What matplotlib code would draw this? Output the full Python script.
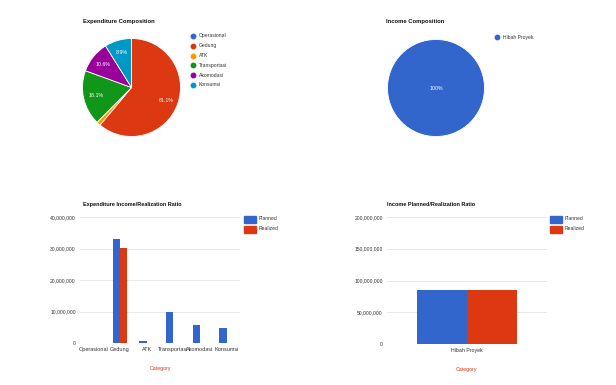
import matplotlib
matplotlib.use("Agg")
import matplotlib.pyplot as plt
from matplotlib.ticker import FuncFormatter, MultipleLocator
import numpy as np

plt.rcParams["font.family"] = ["Liberation Sans", "DejaVu Sans"]

# expenditure categories and planned / realized amounts
exp_cats = ["Operasional", "Gedung", "ATK", "Transportasi", "Akomodasi", "Konsumsi"]
exp_planned = [0, 33000000, 700000, 9800000, 5700000, 4800000]
exp_realized = [0, 30200000, 0, 0, 0, 0]

inc_cats = ["Hibah Proyek"]
inc_planned = [85000000]
inc_realized = [85000000]

GC = ["#3366cc", "#dc3912", "#ff9900", "#109618", "#990099", "#0099c6"]
W, H = 616, 385


def box(x0, y0, x1, y1):
    # pixel box (top-left origin) -> figure fraction rect
    return [x0 / W, 1 - y1 / H, (x1 - x0) / W, (y1 - y0) / H]


fig = plt.figure(figsize=(W / 100, H / 100), dpi=100)
fig.patch.set_facecolor("white")


def legend_rows(x, y, labels, colors, step=9.8, marker="o"):
    for i, (lab, c) in enumerate(zip(labels, colors)):
        yy = 1 - (y + i * step) / H
        if marker == "o":
            fig.add_artist(plt.Line2D([x / W], [yy], marker="o", markersize=3.2,
                                      color=c, transform=fig.transFigure))
        else:
            fig.patches.append(plt.Rectangle((x / W - 6 / W, yy - 3.5 / H), 12 / W, 7 / H,
                                             color=c, transform=fig.transFigure, figure=fig))
        fig.text((x + 6 if marker == "o" else x + 9) / W, yy, lab, fontsize=3.6,
                 color="#333333", va="center")


def pie(rect, values, colors, title, title_xy, pctdist=0.75):
    ax = fig.add_axes(rect)

    def fmt(p):
        return f"{p:.1f}%" if p >= 5 else ""
    ax.pie(values, colors=colors, startangle=90, counterclock=False,
           autopct=fmt, pctdistance=pctdist,
           wedgeprops=dict(edgecolor="white", linewidth=0.6),
           textprops=dict(color="white", fontsize=3.8))
    ax.set_xlim(-1.01, 1.01)
    ax.set_ylim(-1.01, 1.01)
    ax.set_aspect("equal")
    fig.text(title_xy[0] / W, 1 - title_xy[1] / H, title, fontsize=4.2,
             fontweight="bold", color="#111111", va="center")
    return ax


# pie charts
pie(box(82, 38, 181, 137), exp_planned, GC, "Expenditure Composition", (83, 21))
legend_rows(193, 36, exp_cats, GC)
ax = pie(box(387, 39, 485, 137), inc_planned, GC[:1], "Income Composition", (386, 21),
         pctdist=0)
ax.texts[-1].set_text("100%")
legend_rows(497, 37, inc_cats, GC[:1])

num = FuncFormatter(lambda v, _: f"{v:,.0f}")


def bars(rect, cats, planned, realized, ymax, step, width, title, title_xy, leg_xy,
         tick_fs):
    ax = fig.add_axes(rect)
    x = np.arange(len(cats))
    ax.bar(x - width / 2, planned, width, color=GC[0], label="Planned")
    ax.bar(x + width / 2, realized, width, color=GC[1], label="Realized")
    ax.set_xlim(-0.5, len(cats) - 0.5)
    ax.set_ylim(0, ymax)
    ax.yaxis.set_major_locator(MultipleLocator(step))
    ax.yaxis.set_major_formatter(num)
    ax.grid(axis="y", color="#e4e4e4", linewidth=0.6)
    ax.set_axisbelow(True)
    for s in ax.spines.values():
        s.set_visible(False)
    ax.axhline(0, color="#555555", linewidth=0.7)
    ax.tick_params(length=0, labelsize=3.6, colors="#333333", pad=3)
    ax.set_xticks(x)
    ax.set_xticklabels(cats, fontsize=tick_fs)
    ax.set_xlabel("Category", color="#dc3912", fontsize=3.8, labelpad=10)
    fig.text(title_xy[0] / W, 1 - title_xy[1] / H, title, fontsize=4.0,
             fontweight="bold", color="#111111", va="center")
    legend_rows(leg_xy[0], leg_xy[1], ["Planned", "Realized"], GC[:2], step=10, marker="s")
    return ax


bars(box(80, 217, 240, 343), exp_cats, exp_planned, exp_realized, 40000000, 10000000, 0.27,
     "Expenditure Income/Realization Ratio", (83, 205), (250, 219), 4.0)
bars(box(387, 217, 547, 344), inc_cats, inc_planned, inc_realized, 200000000, 50000000, 0.31,
     "Income Planned/Realization Ratio", (387, 205), (556, 219), 3.8)

fig.savefig("out.png", dpi=100, facecolor="white")
